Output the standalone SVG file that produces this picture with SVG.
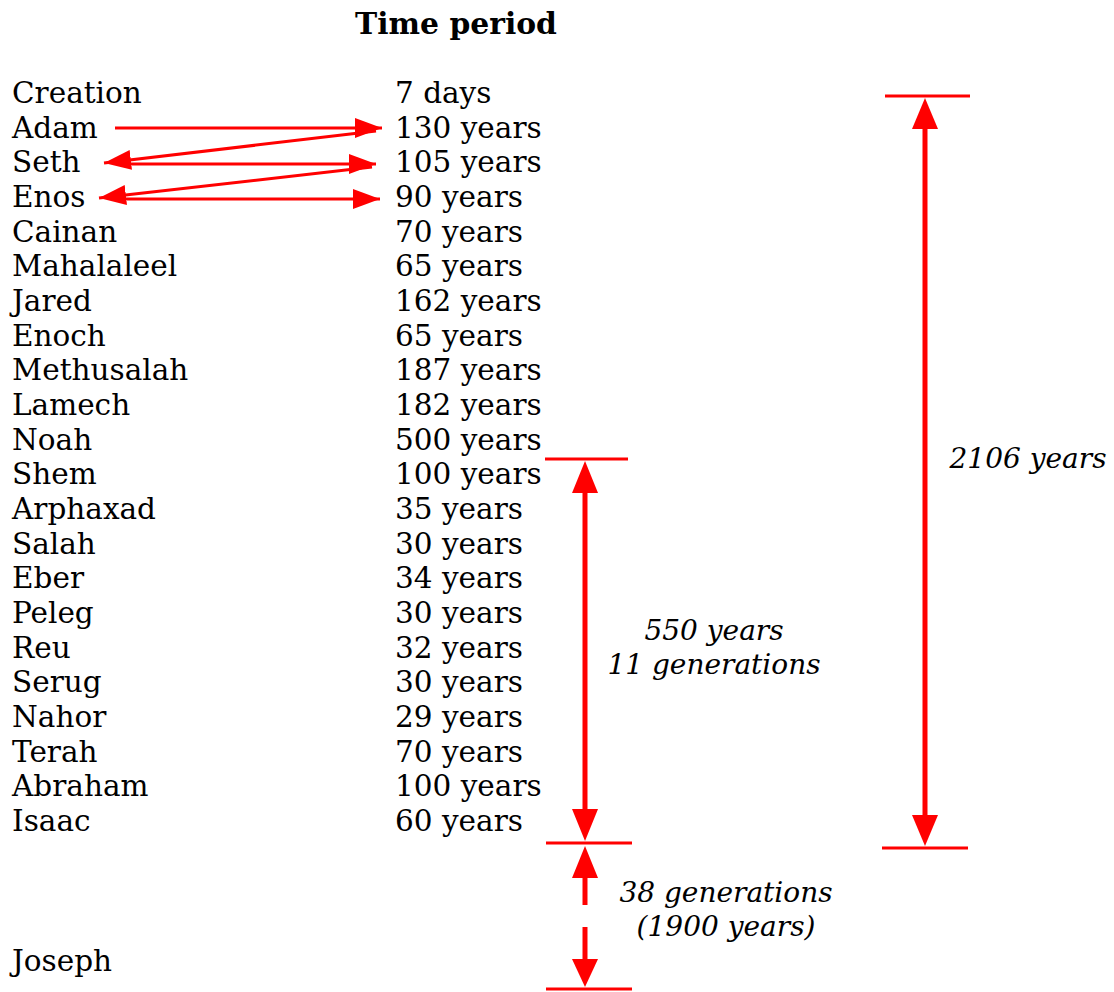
<svg xmlns="http://www.w3.org/2000/svg" width="1114" height="992" viewBox="0 0 1114 992">
<style>
text{font-family:"DejaVu Serif","Liberation Serif",serif;font-size:29.5px;fill:#000}
.t{font-weight:bold;font-size:29.8px}
.i{font-style:italic;text-anchor:middle;font-size:28px}
.thin{stroke:#f00;stroke-width:3;fill:none}
.thick{stroke:#f00;stroke-width:5;fill:none}
.bar{stroke:#f00;stroke-width:3}
.head{fill:#f00}
</style>
<defs>
<marker id="ah" markerUnits="userSpaceOnUse" markerWidth="30" markerHeight="24" refX="27" refY="12" orient="auto"><path d="M0,2 L27,12 L0,22 Z" fill="#f00"/></marker>
</defs>
<rect width="1114" height="992" fill="#fff"/>
<text class="t" x="456" y="34" text-anchor="middle">Time period</text>
<g id="names">
<text x="12" y="103">Creation</text>
<text x="12" y="138">Adam</text>
<text x="12" y="172">Seth</text>
<text x="12" y="207">Enos</text>
<text x="12" y="242">Cainan</text>
<text x="12" y="276">Mahalaleel</text>
<text x="12" y="311">Jared</text>
<text x="12" y="346">Enoch</text>
<text x="12" y="380">Methusalah</text>
<text x="12" y="415">Lamech</text>
<text x="12" y="450">Noah</text>
<text x="12" y="484">Shem</text>
<text x="12" y="519">Arphaxad</text>
<text x="12" y="554">Salah</text>
<text x="12" y="588">Eber</text>
<text x="12" y="623">Peleg</text>
<text x="12" y="658">Reu</text>
<text x="12" y="692">Serug</text>
<text x="12" y="727">Nahor</text>
<text x="12" y="762">Terah</text>
<text x="12" y="796">Abraham</text>
<text x="12" y="831">Isaac</text>
<text x="12" y="971">Joseph</text>
</g>
<g id="periods">
<text x="395" y="103">7 days</text>
<text x="395" y="138">130 years</text>
<text x="395" y="172">105 years</text>
<text x="395" y="207">90 years</text>
<text x="395" y="242">70 years</text>
<text x="395" y="276">65 years</text>
<text x="395" y="311">162 years</text>
<text x="395" y="346">65 years</text>
<text x="395" y="380">187 years</text>
<text x="395" y="415">182 years</text>
<text x="395" y="450">500 years</text>
<text x="395" y="484">100 years</text>
<text x="395" y="519">35 years</text>
<text x="395" y="554">30 years</text>
<text x="395" y="588">34 years</text>
<text x="395" y="623">30 years</text>
<text x="395" y="658">32 years</text>
<text x="395" y="692">30 years</text>
<text x="395" y="727">29 years</text>
<text x="395" y="762">70 years</text>
<text x="395" y="796">100 years</text>
<text x="395" y="831">60 years</text>
</g>
<g id="connectors">
<line class="thin" x1="115" y1="128" x2="382" y2="128" marker-end="url(#ah)"/>
<line class="thin" x1="376" y1="131" x2="104" y2="163" marker-end="url(#ah)"/>
<line class="thin" x1="125" y1="164" x2="376" y2="164" marker-end="url(#ah)"/>
<line class="thin" x1="372" y1="167" x2="99" y2="198" marker-end="url(#ah)"/>
<line class="thin" x1="120" y1="199" x2="380" y2="199" marker-end="url(#ah)"/>
</g>
<g id="span-2106">
<line class="bar" x1="885" y1="96" x2="970" y2="96"/>
<line class="bar" x1="882" y1="848" x2="968" y2="848"/>
<line class="thick" x1="925" y1="125" x2="925" y2="820"/>
<path class="head" d="M925,98 L938,129 L912,129 Z"/>
<path class="head" d="M925,846 L938,815 L912,815 Z"/>
<text class="i" x="1028" y="468">2106 years</text>
</g>
<g id="span-550">
<line class="bar" x1="545" y1="459" x2="628" y2="459"/>
<line class="bar" x1="546" y1="843" x2="632" y2="843"/>
<line class="thick" x1="585" y1="490" x2="585" y2="812"/>
<path class="head" d="M585,461 L598,493 L572,493 Z"/>
<path class="head" d="M585,841 L598,809 L572,809 Z"/>
<text class="i" x="714" y="640">550 years</text>
<text class="i" x="714" y="674">11 generations</text>
</g>
<g id="span-1900">
<line class="bar" x1="546" y1="989" x2="632" y2="989"/>
<line class="thick" x1="585" y1="874" x2="585" y2="905"/>
<path class="head" d="M585,846 L598,878 L572,878 Z"/>
<line class="thick" x1="585" y1="927" x2="585" y2="962"/>
<path class="head" d="M585,987 L598,959 L572,959 Z"/>
<text class="i" x="726" y="902">38 generations</text>
<text class="i" x="726" y="936">(1900 years)</text>
</g>
</svg>
